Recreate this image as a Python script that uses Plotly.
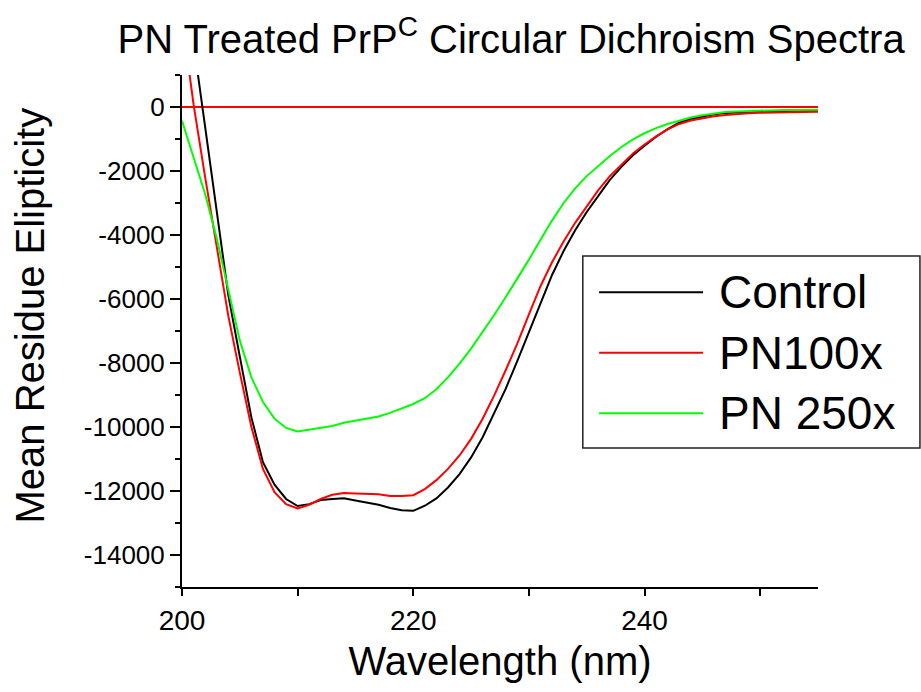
import plotly.graph_objects as go

# ---------------- data ----------------
wavelength = list(range(200, 256))

control = [4630, 2000, -630, -3250, -5870, -7800, -9700, -11100, -11800, -12250,
           -12470, -12410, -12280, -12250, -12230, -12300, -12360, -12430, -12530, -12600,
           -12620, -12460, -12230, -11890, -11470, -10950, -10320, -9580, -8800, -7930,
           -7030, -6100, -5250, -4500, -3850, -3280, -2760, -2280, -1870, -1510,
           -1210, -930, -690, -490, -375, -290, -228, -190, -165, -148,
           -138, -130, -124, -119, -116, -113]

pn100x = [2780, 80, -2190, -4370, -6520, -8300, -10000, -11310, -12040, -12410,
          -12545, -12430, -12250, -12120, -12065, -12075, -12095, -12100, -12155, -12160,
          -12130, -11940, -11660, -11310, -10890, -10370, -9740, -9010, -8220, -7390,
          -6480, -5600, -4850, -4200, -3620, -3090, -2600, -2160, -1790, -1450,
          -1170, -920, -700, -530, -420, -345, -292, -250, -215, -195,
          -180, -170, -162, -155, -150, -147]

pn250x = [-430, -1570, -2720, -4100, -5700, -7300, -8450, -9220, -9740, -10030,
          -10140, -10090, -10030, -9970, -9870, -9800, -9740, -9670, -9560, -9430,
          -9280, -9100, -8820, -8450, -8020, -7550, -7040, -6500, -5940, -5360,
          -4770, -4150, -3550, -3000, -2540, -2160, -1830, -1530, -1250, -1010,
          -820, -660, -530, -420, -330, -260, -200, -160, -138, -122,
          -110, -100, -95, -90, -86, -84]

series_names = ["Control", "PN100x", "PN 250x"]
series_colors = ["#000000", "#ff0000", "#00ff00"]

x_ticks = [200, 220, 240]
x_minor = [210, 230, 250]
y_ticks = [0, -2000, -4000, -6000, -8000, -10000, -12000, -14000]
y_minor = [1000, -1000, -3000, -5000, -7000, -9000, -11000, -13000, -15000]

FONT = "Liberation Sans, Arial, sans-serif"

fig = go.Figure()
for name, ys, col in zip(series_names, [control, pn100x, pn250x], series_colors):
    fig.add_trace(go.Scatter(x=wavelength, y=ys, mode="lines", name=name,
                             line=dict(color=col, width=2), showlegend=False))

fig.update_layout(
    width=921, height=692,
    margin=dict(l=182, r=103, t=75, b=105),
    plot_bgcolor="white", paper_bgcolor="white",
    font=dict(family=FONT, color="black"),
    title=dict(text="PN Treated PrP<sup>C</sup> Circular Dichroism Spectra",
               font=dict(size=40, family=FONT, color="black"),
               x=0.5175, xref="paper", xanchor="center",
               y=1 - 39 / 692, yref="container", yanchor="middle"),
    showlegend=False,
)

fig.update_xaxes(
    range=[200, 255], showgrid=False, zeroline=False,
    showline=True, linecolor="black", linewidth=2,
    tickmode="array", tickvals=x_ticks, ticktext=[str(v) for v in x_ticks],
    ticks="outside", ticklen=7, tickwidth=2, tickcolor="black",
    tickfont=dict(size=28, family=FONT, color="black"),
    minor=dict(tickmode="array", tickvals=x_minor, ticks="outside", ticklen=7,
               tickwidth=2, tickcolor="black", showgrid=False),
    title=dict(text="Wavelength (nm)", font=dict(size=40, family=FONT, color="black"),
               standoff=12),
)
fig.update_yaxes(
    range=[-15000, 1000], showgrid=False,
    zeroline=True, zerolinecolor="#ff0000", zerolinewidth=1.5,
    showline=True, linecolor="black", linewidth=2,
    tickmode="array", tickvals=y_ticks, ticktext=[str(v) for v in y_ticks],
    ticks="outside", ticklen=10, tickwidth=2, tickcolor="black",
    tickfont=dict(size=26, family=FONT, color="black"),
    minor=dict(tickmode="array", tickvals=y_minor, ticks="outside", ticklen=5,
               tickwidth=2, tickcolor="black", showgrid=False),
)

# y-axis title placed as rotated text (sits slightly above the plot centre)
fig.add_annotation(xref="paper", yref="paper", x=-0.2384, y=0.531,
                   text="Mean Residue Elipticity", textangle=-90, showarrow=False,
                   xanchor="center", yanchor="middle",
                   font=dict(size=40, family=FONT, color="black"))

# ---------------- manual legend ----------------
box = dict(x0=0.6302, x1=1.1603, y0=0.2715, y1=0.6465)
fig.add_shape(type="rect", xref="paper", yref="paper", **box,
              line=dict(color="#222222", width=1.5), fillcolor="white", layer="above")
legend_y = [0.5756, 0.4576, 0.3393]
for name, col, yy in zip(series_names, series_colors, legend_y):
    fig.add_shape(type="line", xref="paper", yref="paper",
                  x0=0.6558, x1=0.8193, y0=yy, y1=yy,
                  line=dict(color=col, width=2), layer="above")
    fig.add_annotation(xref="paper", yref="paper", x=0.8408, y=yy,
                       text=name, showarrow=False, xanchor="left", yanchor="middle",
                       font=dict(size=46, family=FONT, color="black"))

fig.write_html("out.html")
